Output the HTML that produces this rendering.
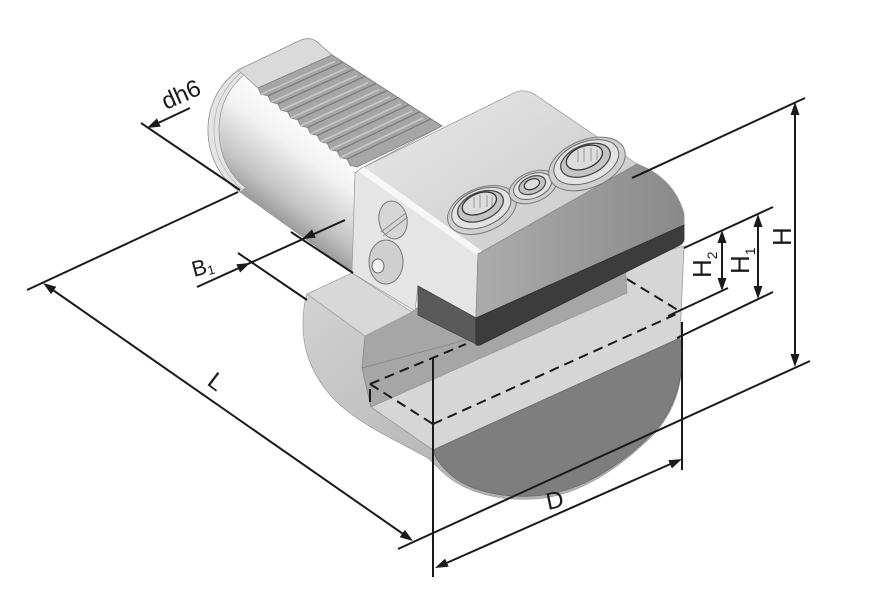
<!DOCTYPE html>
<html><head><meta charset="utf-8">
<style>html,body{margin:0;padding:0;background:#fff;}svg{display:block}</style>
</head>
<body>
<svg width="890" height="605" viewBox="0 0 890 605" xmlns="http://www.w3.org/2000/svg" font-family="'Liberation Sans', Arial, sans-serif">
<defs>
<linearGradient id="gShank" gradientUnits="userSpaceOnUse" x1="330" y1="120" x2="264" y2="208">
<stop offset="0" stop-color="#ffffff"/><stop offset="0.4" stop-color="#f3f3f3"/><stop offset="0.8" stop-color="#c4c4c4"/><stop offset="1" stop-color="#9c9c9c"/>
</linearGradient>
<linearGradient id="gHead" gradientUnits="userSpaceOnUse" x1="300" y1="300" x2="470" y2="500">
<stop offset="0" stop-color="#d2d2d2"/><stop offset="1" stop-color="#b2b2b2"/>
</linearGradient>
<linearGradient id="gFront" gradientUnits="userSpaceOnUse" x1="478" y1="0" x2="684" y2="0">
<stop offset="0" stop-color="#ababab"/><stop offset="1" stop-color="#8a8a8a"/>
</linearGradient>
<linearGradient id="gTop" gradientUnits="userSpaceOnUse" x1="450" y1="100" x2="540" y2="230">
<stop offset="0" stop-color="#e2e2e2"/><stop offset="1" stop-color="#d0d0d0"/>
</linearGradient>
</defs>

<rect width="890" height="605" fill="#fff"/>

<!-- Shank cylinder -->
<path d="M240,69 L301,40 Q309,37 316,41 L332,55 L442,126 L362,168 L355,173 L353,273 L240,192 C222,180 208,158 208,130 C208,103 221,82 240,69 Z" fill="url(#gShank)" stroke="#9a9a9a" stroke-width="0.8"/>
<path d="M240,69 C221,82 208,103 208,130 C208,158 222,180 240,192 L246,188 C231,177 219,157 219,130 C219,104 230,86 246,73 Z" fill="#e4e4e4" stroke="#999" stroke-width="0.8"/>
<path d="M243,71 C226,84 214,105 214,130 C214,156 226,176 243,190" fill="none" stroke="#b5b5b5" stroke-width="0.8"/>
<path d="M238,70 L301,40 Q309,37 316,41 L332,55 L258,88 Z" fill="#dadada" stroke="#9a9a9a" stroke-width="0.8"/>
<path d="M332,55 L258,88 L261.1,94.3 L267.9,95.9 L271,102.2 L277.8,103.8 L280.9,110.1 L287.7,111.7 L290.8,118 L297.6,119.6 L300.7,125.9 L307.5,127.5 L310.6,133.8 L317.4,135.4 L320.5,141.7 L327.3,143.3 L330.4,149.6 L337.2,151.2 L340.3,157.5 L347.1,159.1 L350.2,165.4 L357,167 L442,126 Z" fill="#a6a6a6" stroke="#808080" stroke-width="0.8"/>
<g stroke="#c9c9c9" stroke-width="1.6">
<line x1="261.1" y1="94.3" x2="335" y2="61.3"/>
<line x1="271" y1="102.2" x2="346" y2="68.4"/>
<line x1="280.9" y1="110.1" x2="357" y2="75.5"/>
<line x1="290.8" y1="118" x2="368" y2="82.6"/>
<line x1="300.7" y1="125.9" x2="379" y2="89.7"/>
<line x1="310.6" y1="133.8" x2="390" y2="96.8"/>
<line x1="320.5" y1="141.7" x2="401" y2="103.9"/>
<line x1="330.4" y1="149.6" x2="412" y2="111"/>
<line x1="340.3" y1="157.5" x2="423" y2="118.1"/>
</g>
<g stroke="#7a7a7a" stroke-width="1.2">
<line x1="267.9" y1="95.9" x2="343" y2="62.1"/>
<line x1="277.8" y1="103.8" x2="354" y2="69.2"/>
<line x1="287.7" y1="111.7" x2="365" y2="76.3"/>
<line x1="297.6" y1="119.6" x2="376" y2="83.4"/>
<line x1="307.5" y1="127.5" x2="387" y2="90.5"/>
<line x1="317.4" y1="135.4" x2="398" y2="97.6"/>
<line x1="327.3" y1="143.3" x2="409" y2="104.7"/>
<line x1="337.2" y1="151.2" x2="420" y2="111.8"/>
<line x1="347.1" y1="159.1" x2="431" y2="118.9"/>
</g>

<!-- Head -->
<path d="M307,294 L365,336 L362,368 L371,407 L433,450 L680,338 C686,374 678,412 648,440 C614,472 575,497 533,499 C496,501 465,491 447,476 C440,470 433,463 428,458 C395,440 362,425 340,405 C316,383 303,355 303,325 C303,310 305,300 307,294 Z" fill="url(#gHead)" stroke="#a0a0a0" stroke-width="0.8"/>
<path d="M365,336 L412,312 L430,298 L625,250 L627,293 L371,407 L362,368 Z" fill="#a6a6a6" stroke="#8a8a8a" stroke-width="0.8"/>
<line x1="362" y1="368" x2="473" y2="338" stroke="#858585" stroke-width="0.8"/>
<path d="M371,407 L433,450 L680,338 L684,246 L625,262 L627,293 Z" fill="#d6d6d6" stroke="#9a9a9a" stroke-width="0.8"/>
<path d="M433,450 L680,338 C686,373 677,411 647,439 C613,471 574,494 533,496 C497,498 466,489 450,474 C441,466 435,458 433,450 Z" fill="#7e7e7e" stroke="#6a6a6a" stroke-width="0.8"/>
<path d="M307,294 L352,273 L412,312 L365,336 Z" fill="#d8d8d8" stroke="#a5a5a5" stroke-width="0.8"/>

<!-- Body -->
<path d="M355,173 L362,168 L478,254 L476,318 L418,286 L415,311 L352,273 Z" fill="#e5e5e5" stroke="#a0a0a0" stroke-width="0.8"/>
<path d="M362,168 L514,93 Q524,88 534,94 L637,164 L478,254 Z" fill="url(#gTop)" stroke="#a0a0a0" stroke-width="0.8"/>
<path d="M358,171 L364,167 L482,251 L478,256 Z" fill="#f7f7f7"/>
<path d="M478,254 L637,164 Q674,178 684,214 L684,225 L476,318 Z" fill="url(#gFront)" stroke="#8a8a8a" stroke-width="0.8"/>
<path d="M418,286 L476,318 L476,344 L418,315 Z" fill="#5a5a5a" stroke="#444" stroke-width="0.8"/>
<path d="M476,318 L684,225 L684,240 Q683,244 678,246 L480,345 Q476,346 476,344 Z" fill="#3c3c3c" stroke="#2e2e2e" stroke-width="0.8"/>

<!-- side screws -->
<g transform="rotate(-10 393 220)">
<ellipse cx="393" cy="220" rx="14" ry="19" fill="#d6d6d6" stroke="#777" stroke-width="1"/>
</g>
<path d="M381,232 L406,213 M383,236 L408,217" stroke="#8a8a8a" stroke-width="1" fill="none"/>
<ellipse cx="386" cy="262" rx="17" ry="22" fill="#cfcfcf" stroke="#777" stroke-width="1"/>
<ellipse cx="378" cy="266" rx="6" ry="7" fill="#f2f2f2" stroke="#666" stroke-width="1"/>

<!-- top screws -->
<g transform="rotate(-22 482 210)">
<ellipse cx="482" cy="210" rx="36" ry="22" fill="#cfcfcf" stroke="#7a7a7a"/>
<ellipse cx="482" cy="208" rx="31" ry="18.5" fill="#e3e3e3" stroke="#666"/>
<ellipse cx="482" cy="206" rx="24" ry="14" fill="#c4c4c4" stroke="#4a4a4a" stroke-width="1.3"/>
<ellipse cx="482" cy="203" rx="18" ry="10" fill="#dcdcdc" stroke="#333" stroke-width="1.3"/>
</g>
<path d="M474,197 v11 M480,195 v13 M487,195 v12 M492,197 v9" stroke="#9a9a9a" stroke-width="1"/>

<g transform="rotate(-22 533 187)">
<ellipse cx="533" cy="187" rx="25" ry="15" fill="#cfcfcf" stroke="#7a7a7a"/>
<ellipse cx="533" cy="186" rx="20" ry="12" fill="#e3e3e3" stroke="#666"/>
<ellipse cx="533" cy="185" rx="14" ry="8.5" fill="#c4c4c4" stroke="#4a4a4a" stroke-width="1.2"/>
<ellipse cx="533" cy="184" rx="8" ry="5" fill="#dcdcdc" stroke="#333" stroke-width="1.2"/>
</g>

<g transform="rotate(-22 587 164)">
<ellipse cx="587" cy="164" rx="40" ry="24" fill="#cfcfcf" stroke="#7a7a7a"/>
<ellipse cx="587" cy="162" rx="34" ry="20" fill="#e3e3e3" stroke="#666"/>
<ellipse cx="587" cy="160" rx="26" ry="15" fill="#c4c4c4" stroke="#4a4a4a" stroke-width="1.3"/>
<ellipse cx="587" cy="157" rx="19" ry="11" fill="#dcdcdc" stroke="#333" stroke-width="1.3"/>
</g>
<path d="M578,150 v12 M584,148 v14 M591,148 v13 M597,150 v10" stroke="#9a9a9a" stroke-width="1"/>

<!-- hidden dashed lines -->
<g stroke="#1a1a1a" stroke-width="2" fill="none" stroke-dasharray="10,6">
<line x1="370" y1="384" x2="466" y2="344"/>
<line x1="370" y1="384" x2="433" y2="424"/>
<line x1="433" y1="424" x2="681" y2="312"/>
<line x1="627" y1="279" x2="681" y2="312"/>
</g>
<line x1="370" y1="389" x2="370" y2="402" stroke="#1a1a1a" stroke-width="2"/>

<!-- dimension lines -->
<g stroke="#1a1a1a" stroke-width="2" fill="none">
<line x1="141" y1="123" x2="240" y2="190"/>
<line x1="190" y1="108" x2="156" y2="124"/>
<line x1="27" y1="290" x2="238" y2="192"/>
<line x1="50" y1="288" x2="406" y2="536"/>
<line x1="398" y1="549" x2="810" y2="361"/>
<line x1="291" y1="232" x2="353" y2="273"/>
<line x1="238" y1="253" x2="307" y2="300"/>
<line x1="197" y1="287" x2="345" y2="220"/>
<line x1="433" y1="357" x2="433" y2="577"/>
<line x1="682" y1="322" x2="682" y2="470"/>
<line x1="442" y1="565" x2="675" y2="462"/>
<line x1="805" y1="98" x2="632" y2="178"/>
<line x1="795" y1="112" x2="795" y2="356"/>
<line x1="773" y1="207" x2="684" y2="248"/>
<line x1="773" y1="292" x2="677" y2="338"/>
<line x1="758" y1="224" x2="758" y2="290"/>
<line x1="728" y1="288" x2="668" y2="316"/>
<line x1="722" y1="240" x2="722" y2="281"/>
</g>

<!-- arrowheads -->
<g fill="#1a1a1a">
<polygon points="147,128 160.7,126.6 156.9,118.4"/>
<polygon points="43,283 56.3,286.7 51.1,294.1"/>
<polygon points="413,541 404.9,529.9 399.7,537.3"/>
<polygon points="250,263 240.1,272.5 236.4,264.3"/>
<polygon points="302,239 315.7,237.7 312,229.5"/>
<polygon points="682,459 671.9,468.4 668.3,460.2"/>
<polygon points="435,568 448.7,566.8 445.1,558.6"/>
<polygon points="795,102 790.5,115 799.5,115"/>
<polygon points="795,367 790.5,354 799.5,354"/>
<polygon points="758,214 753.5,227 762.5,227"/>
<polygon points="758,299 753.5,286 762.5,286"/>
<polygon points="722,230 717.5,243 726.5,243"/>
<polygon points="722,291 717.5,278 726.5,278"/>
</g>

<!-- labels -->
<g fill="#1a1a1a">
<text transform="translate(166,110) rotate(-24)" font-size="24">dh6</text>
<text transform="translate(194,277) rotate(-15)" font-size="22">B<tspan font-size="13" dy="2">1</tspan></text>
<text transform="translate(206,384) rotate(37)" font-size="24">L</text>
<text transform="translate(548,510) rotate(-12)" font-size="24">D</text>
<text transform="translate(791,246) rotate(-90)" font-size="26">H</text>
<text transform="translate(749,274) rotate(-90)" font-size="26">H<tspan font-size="14" dy="6">1</tspan></text>
<text transform="translate(711,278) rotate(-90)" font-size="26">H<tspan font-size="14" dy="6">2</tspan></text>
</g>
</svg>
</body></html>
